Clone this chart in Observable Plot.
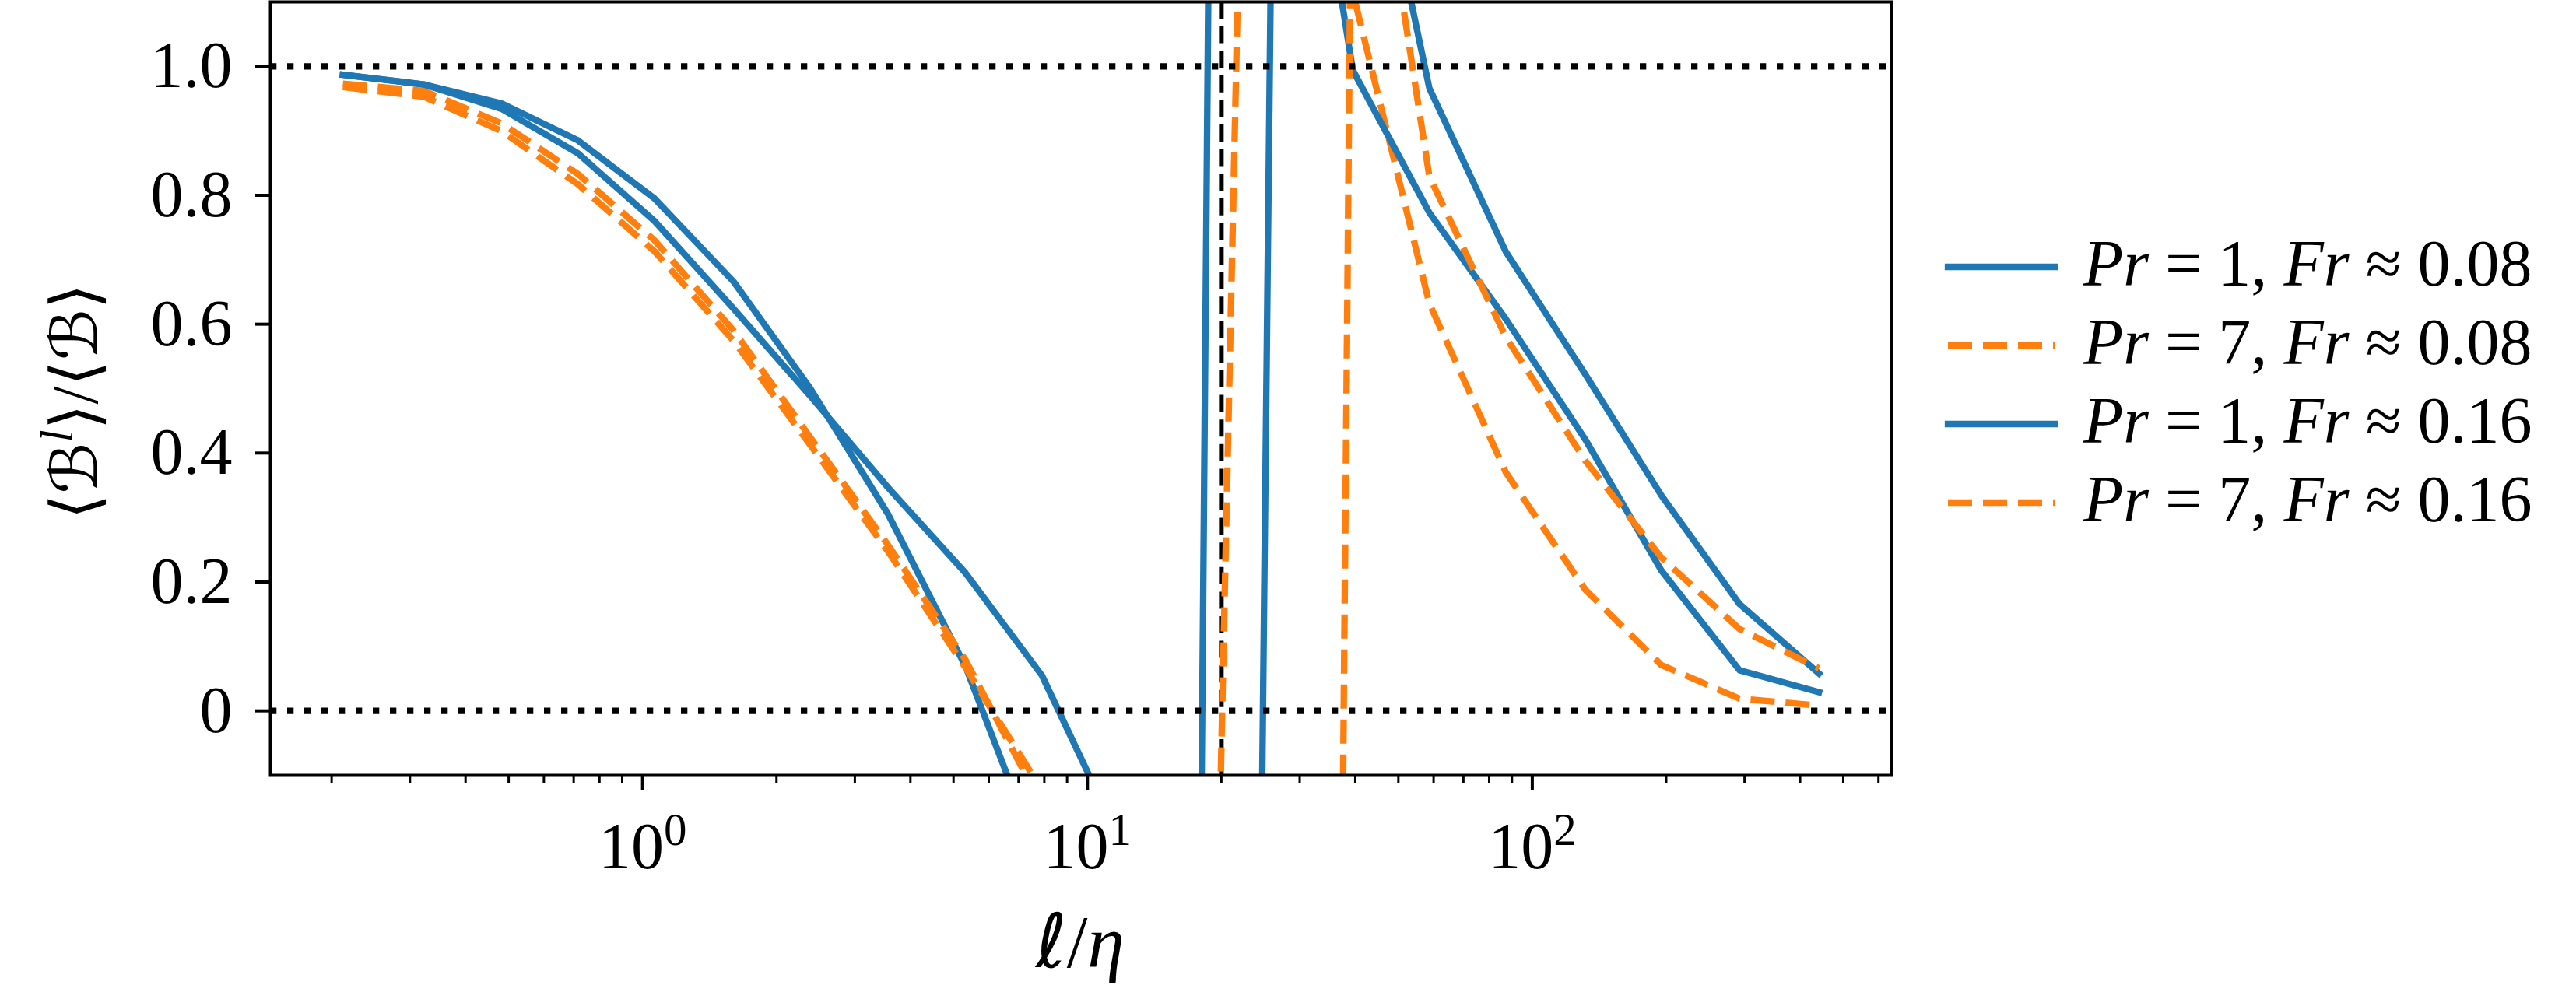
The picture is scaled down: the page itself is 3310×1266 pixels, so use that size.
<!DOCTYPE html>
<html>
<head>
<meta charset="utf-8">
<script src="https://cdn.jsdelivr.net/npm/d3@7"></script>
<script src="https://cdn.jsdelivr.net/npm/@observablehq/plot@0.6"></script>
<style>
html, body { margin: 0; padding: 0; background: #ffffff; }
#chart { width: 3310px; height: 1266px; overflow: hidden; }
</style>
</head>
<body>
<div id="chart"></div>
<script>
// ---- data ----
const ell = [0.212, 0.322, 0.482, 0.716, 1.064, 1.602, 2.379, 3.558, 5.32, 7.90,
             11.81, 17.66, 26.4, 39.5, 58.7, 87.2, 131.6, 195, 292.4, 441];

const bluePr1Fr008 = [0.987, 0.972, 0.9425, 0.885, 0.795, 0.666, 0.501, 0.306, 0.069, -0.24,
                      -0.55, -0.90, 13.36, 1.53, 0.966, 0.7125, 0.522, 0.3345, 0.1656, 0.058];
const orangePr7Fr008 = [0.973, 0.962, 0.9115, 0.833, 0.73, 0.59, 0.425, 0.258, 0.079, -0.147,
                        -0.6, -1.77, 3.76, 1.115, 0.632, 0.37, 0.188, 0.0712, 0.0189, 0.0081];
const bluePr1Fr016 = [0.987, 0.972, 0.934, 0.865, 0.76, 0.624, 0.489, 0.347, 0.214, 0.055,
                      -0.2, -9.54, 1.75, 0.994, 0.773, 0.608, 0.421, 0.218, 0.063, 0.029];
const orangePr7Fr016 = [0.968, 0.953, 0.8995, 0.817, 0.713, 0.574, 0.413, 0.248, 0.067, -0.123,
                        -0.8, -3.0, -12.05, 1.6, 0.829, 0.58, 0.388, 0.238, 0.127, 0.066];

const seriesPr = ["1", "7", "1", "7"];
const seriesFr = ["0.08", "0.08", "0.16", "0.16"];
const seriesValues = [bluePr1Fr008, orangePr7Fr008, bluePr1Fr016, orangePr7Fr016];
const seriesColor = ["#1f77b4", "#ff7f0e", "#1f77b4", "#ff7f0e"];
const seriesDash = [null, "31,14", null, "31,14"];

const yTicks = [0, 0.2, 0.4, 0.6, 0.8, 1.0];
const yTickLabels = ["0", "0.2", "0.4", "0.6", "0.8", "1.0"];
const xMajorTicks = [1, 10, 100];
const xMinorTicks = [0.2, 0.3, 0.4, 0.5, 0.6, 0.7, 0.8, 0.9,
                     2, 3, 4, 5, 6, 7, 8, 9,
                     20, 30, 40, 50, 60, 70, 80, 90,
                     200, 300, 400, 500, 600];
const refLevels = [0, 1];
const asymptoteX = [20];

// ---- build ----
const W = 3310, H = 1266;
const FONT = "'Liberation Serif', 'Times New Roman', serif";
const SYM = "'DejaVu Sans', 'DejaVu Serif', sans-serif";
const SYMSERIF = "'DejaVu Serif', 'DejaVu Sans', serif";

const lineMarks = seriesValues.map((vals, s) => {
  const rows = vals.map((v, i) => ({x: ell[i], y: v}));
  return Plot.line(rows, {
    x: "x", y: "y",
    stroke: seriesColor[s],
    strokeWidth: 8.3,
    strokeDasharray: seriesDash[s] || undefined,
    strokeLinecap: seriesDash[s] ? "butt" : "square",
    strokeLinejoin: "round",
    clip: true
  });
});

const svg = Plot.plot({
  width: W, height: H,
  marginLeft: 347, marginRight: 880, marginTop: 2, marginBottom: 270,
  style: {fontFamily: FONT, fontSize: "84px", color: "black", background: "white", overflow: "visible"},
  x: {type: "log", domain: [0.1457, 642]},
  y: {domain: [-0.1, 1.1]},
  marks: [
    Plot.ruleX(asymptoteX, {stroke: "black", strokeWidth: 6, strokeDasharray: "22,9.6"}),
    ...lineMarks,
    Plot.ruleY(refLevels, {stroke: "black", strokeWidth: 8.3, strokeDasharray: "8.3,13.7"}),
    Plot.frame({stroke: "black", strokeWidth: 4}),
    Plot.axisY({ticks: yTicks, tickFormat: d => yTickLabels[yTicks.indexOf(d)],
                tickSize: 19, tickPadding: 30, strokeWidth: 4, fontSize: 84, label: null}),
    Plot.axisX({ticks: xMinorTicks, tickFormat: () => "", tickSize: 11, strokeWidth: 3, label: null}),
    Plot.axisX({ticks: xMajorTicks, tickFormat: d => "10^" + Math.round(Math.log10(d)),
                tickSize: 20, tickPadding: 40, strokeWidth: 4, fontSize: 84, label: null})
  ]
});

document.getElementById("chart").appendChild(svg);
const root = d3.select(svg);

// superscripts for 10^n tick labels
root.selectAll("text").each(function() {
  const t = this.textContent;
  if (/^10\^\d$/.test(t)) {
    const e = t.split("^")[1];
    const sel = d3.select(this);
    sel.text("10");
    sel.append("tspan").attr("dy", -30).attr("font-size", 59).text(e);
  }
});

// x axis label  ℓ/η
root.append("text")
  .attr("x", 1388).attr("y", 1243)
  .attr("text-anchor", "middle")
  .attr("font-family", FONT).attr("font-size", 96)
  .call(t => {
    t.append("tspan").attr("font-family", SYMSERIF).attr("font-style", "italic").text("ℓ");
    t.append("tspan").text("/");
    t.append("tspan").attr("font-style", "italic").text("η");
  });

// y axis label  ⟨ℬ^l⟩/⟨ℬ⟩
root.append("text")
  .attr("transform", "translate(125,516) rotate(-90)")
  .attr("text-anchor", "middle")
  .attr("font-family", FONT).attr("font-size", 84)
  .call(t => {
    t.append("tspan").attr("font-family", SYM).text("⟨");
    t.append("tspan").attr("font-family", SYMSERIF).attr("font-style", "italic").text("ℬ");
    t.append("tspan").attr("dy", -32).attr("font-size", 59).attr("font-style", "italic").text("l");
    t.append("tspan").attr("dy", 32).attr("font-family", SYM).text("⟩");
    t.append("tspan").text("/");
    t.append("tspan").attr("font-family", SYM).text("⟨");
    t.append("tspan").attr("font-family", SYMSERIF).attr("font-style", "italic").text("ℬ");
    t.append("tspan").attr("font-family", SYM).text("⟩");
  });

// legend
const legendY = [343, 444, 545, 646];
const lg = root.append("g").attr("font-family", FONT).attr("font-size", 84).attr("text-anchor", "start");
seriesValues.forEach((_, s) => {
  const y = legendY[s];
  lg.append("line")
    .attr("x1", 2503).attr("x2", 2640).attr("y1", y).attr("y2", y)
    .attr("stroke", seriesColor[s]).attr("stroke-width", 8.3)
    .attr("stroke-linecap", seriesDash[s] ? "butt" : "square")
    .attr("stroke-dasharray", seriesDash[s]);
  const tx = lg.append("text").attr("x", 2677).attr("y", y + 24)
    .attr("text-anchor", "start").style("white-space", "pre");
  tx.append("tspan").attr("font-style", "italic").text("Pr");
  tx.append("tspan").text(" = " + seriesPr[s] + ", ");
  tx.append("tspan").attr("font-style", "italic").text("Fr");
  tx.append("tspan").text(" ≈ " + seriesFr[s]);
});
</script>
</body>
</html>
